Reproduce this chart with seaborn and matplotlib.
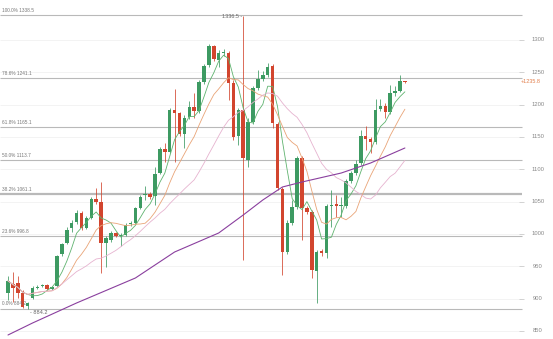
import numpy as np
import pandas as pd
import matplotlib
matplotlib.use("Agg")
import matplotlib.pyplot as plt
import seaborn as sns

# ---- data ----
opens = [908.7, 922.6, 924.4, 908.7, 888.6, 901.0, 916.5, 919.5, 921.1, 914.9,
         919.5, 969.0, 986.0, 1009.2, 1018.5, 1032.4, 1009.2, 1024.7, 1054.1, 1049.4,
         986.0, 990.7, 1001.5, 996.8, 998.4, 1015.4, 1016.9, 1040.1, 1060.2, 1061.8,
         1058.7, 1094.2, 1131.3, 1126.7, 1191.6, 1187.0, 1154.5, 1180.8, 1196.3, 1190.1,
         1234.9, 1261.2, 1290.6, 1268.9, 1279.8, 1279.8, 1233.4, 1151.4, 1191.6, 1114.3,
         1173.1, 1225.7, 1239.6, 1245.7, 1259.7, 1170.0, 1069.5, 972.1, 1016.9, 1041.7,
         1117.4, 1040.1, 1034.0, 942.7, 973.7, 970.6, 1043.2, 1046.3, 1043.2, 1043.2,
         1081.9, 1094.2, 1109.7, 1151.4, 1146.8, 1142.2, 1193.2, 1197.8, 1188.5, 1217.9,
         1221.0, 1236.5]
closes = [927.3, 916.5, 908.7, 887.1, 893.3, 916.5, 918.0, 921.1, 914.9, 918.0,
          965.9, 984.5, 1006.1, 1016.9, 1032.4, 1009.2, 1024.7, 1054.1, 1049.4, 986.0,
          993.7, 1001.5, 996.8, 998.4, 1013.9, 1016.9, 1040.1, 1057.1, 1061.8, 1057.1,
          1092.7, 1131.3, 1126.7, 1191.6, 1187.0, 1154.5, 1179.3, 1196.3, 1190.1, 1234.9,
          1259.7, 1290.6, 1270.5, 1279.8, 1281.3, 1233.4, 1149.9, 1191.6, 1117.4, 1173.1,
          1225.7, 1239.6, 1245.7, 1258.1, 1171.5, 1071.1, 972.1, 1016.9, 1041.7, 1117.4,
          1040.1, 1034.0, 944.3, 972.1, 970.6, 1043.2, 1044.8, 1043.2, 1044.8, 1081.9,
          1094.2, 1108.1, 1151.4, 1146.8, 1142.2, 1191.6, 1197.8, 1188.5, 1217.9, 1221.0,
          1236.5, 1234.9]
highs = [935.2, 941.2, 935.2, 913.4, 894.8, 919.5, 921.1, 922.6, 922.6, 919.5,
         967.5, 986.0, 1010.8, 1021.6, 1037.1, 1035.5, 1027.8, 1057.1, 1071.1, 1080.3,
         996.8, 1004.6, 1003.0, 1001.5, 1016.9, 1020.0, 1041.7, 1060.2, 1074.1, 1064.9,
         1103.5, 1134.4, 1140.6, 1194.7, 1224.1, 1188.5, 1183.9, 1205.6, 1217.9, 1238.0,
         1262.8, 1293.7, 1292.1, 1284.4, 1285.9, 1282.9, 1238.0, 1194.7, 1336.5, 1179.3,
         1228.7, 1253.5, 1251.9, 1264.3, 1262.8, 1173.1, 1072.6, 1021.6, 1052.5, 1120.5,
         1120.5, 1043.2, 1037.1, 975.2, 976.8, 1046.3, 1068.0, 1060.2, 1057.1, 1085.0,
         1097.3, 1114.3, 1160.7, 1166.9, 1149.9, 1208.6, 1208.6, 1202.5, 1230.3, 1228.7,
         1245.7, 1236.5]
lows = [897.9, 894.8, 901.0, 885.7, 884.2, 899.4, 914.9, 918.0, 913.4, 913.4,
        918.0, 965.9, 984.5, 1003.0, 1015.4, 1006.1, 1007.7, 1023.1, 1046.3, 939.8,
        948.9, 987.6, 995.3, 981.4, 996.8, 1012.3, 1015.4, 1038.6, 1052.5, 1054.1,
        1044.8, 1092.7, 1111.2, 1125.2, 1111.2, 1151.4, 1132.9, 1177.7, 1179.3, 1187.0,
        1231.8, 1258.1, 1267.4, 1258.1, 1275.1, 1207.1, 1145.3, 1137.5, 959.7, 1103.5,
        1170.0, 1222.6, 1236.5, 1242.7, 1163.8, 1068.0, 936.5, 969.0, 1013.9, 1038.6,
        990.7, 1030.9, 931.9, 893.3, 966.0, 962.8, 1010.8, 1026.2, 1026.2, 1040.1,
        1078.8, 1091.2, 1106.6, 1129.8, 1125.2, 1139.1, 1190.1, 1179.3, 1185.5, 1213.3,
        1219.5, 1233.4]

long_ma_idx = [0, 5, 14, 26, 34, 43, 48, 52, 56, 60, 68, 74, 81]
long_ma_val = [843.8, 862.3, 893.3, 931.9, 972.1, 1001.5, 1029.3, 1052.5, 1072.6,
               1080.3, 1094.2, 1109.7, 1132.9]

fib_pct = ["100.0%", "78.6%", "61.8%", "50.0%", "38.2%", "23.6%", "0.0%"]
fib_val = [1338.5, 1241.1, 1165.1, 1113.7, 1061.1, 996.8, 884.2]
axis_ticks = [850, 900, 950, 1000, 1050, 1100, 1150, 1200, 1250, 1300]
high_mark = 1336.5
low_mark = 884.2
last_price = 1235.8

# ---- frame ----
df = pd.DataFrame({"o": opens, "h": highs, "l": lows, "c": closes})
df["i"] = np.arange(len(df))
df["ma5"] = df["c"].rolling(5, min_periods=1).mean()
df["ma10"] = df["c"].rolling(10, min_periods=1).mean()
df["ma20"] = df["c"].rolling(20, min_periods=1).mean()

sns.set_theme(style="white")
plt.rcParams["font.family"] = ["Liberation Sans", "DejaVu Sans"]

W, H = 553, 339
fig = plt.figure(figsize=(W / 100, H / 100), dpi=100)
ax = fig.add_axes([0, 0, 1, 1])
ax.set_axis_off()

def ix(px):
    return (px - 8) / 4.9

ax.set_xlim(ix(0), ix(W))
ax.set_ylim(837.6, 1361.7)

GREEN = "#3d9a62"
RED = "#d2452e"

# faint grid
ax.hlines(axis_ticks, ix(0), ix(522), color="#f1f1f1", lw=0.6, zorder=0)
# fib lines
for p, v in zip(fib_pct, fib_val):
    ax.hlines(v, ix(0), ix(522), color="#b9b9b9", lw=1.6 if p == "38.2%" else 0.8, zorder=1)
    ax.annotate(f"{p} {v}", (ix(2), v), xytext=(0, 1.8), textcoords="offset points",
                ha="left", va="bottom", fontsize=3.4, color="#777777", zorder=6)

# candles
up = df["c"] >= df["o"]
cols = np.where(up, GREEN, RED)
ax.vlines(df["i"], df["l"], df["h"], colors=cols, lw=0.7, alpha=0.8, zorder=2)
bottoms = np.minimum(df["o"], df["c"])
heights = np.maximum(np.abs(df["c"] - df["o"]), 1.6)
ax.bar(df["i"], heights, bottom=bottoms, width=0.72, color=cols, linewidth=0, zorder=3)

# moving averages
sns.lineplot(data=df, x="i", y="ma5", color="#5fb36f", lw=0.6, ax=ax, zorder=4)
sns.lineplot(data=df, x="i", y="ma10", color="#e9a477", lw=0.6, ax=ax, zorder=4)
sns.lineplot(data=df, x="i", y="ma20", color="#e6b3cf", lw=0.6, ax=ax, zorder=4)
sns.lineplot(x=long_ma_idx, y=long_ma_val, color="#8a3f9e", lw=0.8, ax=ax, zorder=4)

# right axis
ax.hlines(axis_ticks, ix(519), ix(524), color="#cccccc", lw=0.6)
for t in axis_ticks:
    ax.text(ix(538), t, str(t), ha="center", va="center", fontsize=4.2, color="#888888")

# marks
hi_i = int(np.argmax(df["h"]))
lo_i = int(np.argmin(df["l"]))
ax.annotate(f"{high_mark} -", (hi_i, high_mark), xytext=(-1, 0), textcoords="offset points",
            ha="right", va="center", fontsize=4.0, color="#666666")
ax.annotate(f"- {low_mark}", (lo_i, low_mark), xytext=(1.5, -2.5), textcoords="offset points",
            ha="left", va="center", fontsize=4.0, color="#666666")
ax.text(ix(521), last_price, f"+{last_price}", ha="left", va="center", fontsize=4.0,
        color="#e27f4c")

ax.get_legend() and ax.get_legend().remove()
fig.savefig("out.png", dpi=100)
